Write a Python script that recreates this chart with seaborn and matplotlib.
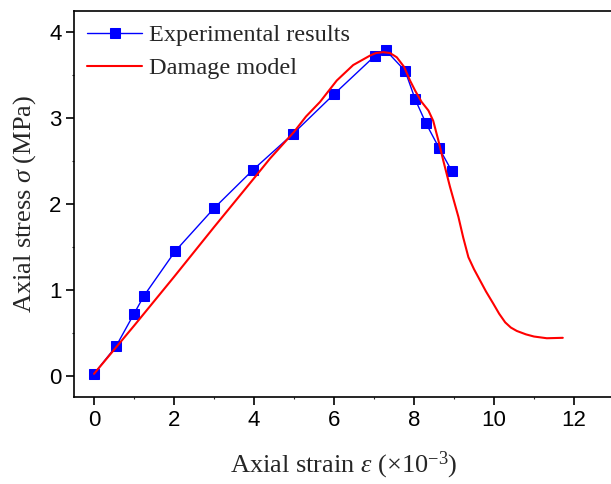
import numpy as np
import pandas as pd
import matplotlib
matplotlib.use("Agg")
import matplotlib.pyplot as plt
import seaborn as sns
from matplotlib.ticker import MultipleLocator

exp_strain = [0.0, 0.55, 1.0, 1.25, 2.03, 3.0, 3.98, 4.98, 6.0, 7.03, 7.3, 7.78, 8.03, 8.3, 8.63, 8.95]
exp_stress = [0.02, 0.34, 0.72, 0.93, 1.45, 1.95, 2.40, 2.82, 3.28, 3.73, 3.79, 3.55, 3.22, 2.94, 2.65, 2.38]

model_strain = [0.0, 1.0, 2.0, 3.0, 4.0, 4.4, 5.0, 5.3, 5.65, 6.07, 6.48, 6.9, 7.05, 7.23, 7.4,
                7.57, 7.75, 7.9, 8.03, 8.19, 8.36, 8.48, 8.61, 8.73, 8.9, 9.11, 9.23, 9.36,
                9.5, 9.65, 9.8, 9.98, 10.13, 10.28, 10.42, 10.57, 10.8, 11.0, 11.32, 11.72]
model_stress = [0.02, 0.58, 1.15, 1.73, 2.30, 2.53, 2.84, 3.02, 3.19, 3.44, 3.62, 3.73, 3.76, 3.77, 3.76,
                3.71, 3.60, 3.44, 3.32, 3.19, 3.09, 2.97, 2.74, 2.51, 2.20, 1.85, 1.61, 1.38,
                1.24, 1.11, 0.98, 0.84, 0.72, 0.62, 0.56, 0.52, 0.48, 0.455, 0.435, 0.44]

sns.set_style("ticks")
plt.rcParams['font.family'] = ['Liberation Sans', 'DejaVu Sans']
plt.rcParams['mathtext.fontset'] = 'custom'
plt.rcParams['mathtext.it'] = 'Liberation Serif:italic'
plt.rcParams['mathtext.rm'] = 'Liberation Serif'

fig = plt.figure(figsize=(6.11, 4.84), dpi=100)
ax = fig.add_axes([74/611, 87/484, 540/611, 386/484])

df_exp = pd.DataFrame({"strain": exp_strain, "stress": exp_stress})
df_mod = pd.DataFrame({"strain": model_strain, "stress": model_stress})

sns.lineplot(data=df_exp, x="strain", y="stress", ax=ax, color="#0000FF", lw=1.0,
             marker="s", markersize=7.5, markeredgecolor="#0000FF", sort=False,
             label="Experimental results")
sns.lineplot(data=df_mod, x="strain", y="stress", ax=ax, color="#FF0000", lw=1.5,
             sort=False, label="Damage model")

ax.set_xlim(-0.5, 13)
ax.set_ylim(-0.25, 4.25)
ax.xaxis.set_major_locator(MultipleLocator(2))
ax.xaxis.set_minor_locator(MultipleLocator(1))
ax.yaxis.set_major_locator(MultipleLocator(1))
ax.yaxis.set_minor_locator(MultipleLocator(0.5))
ax.tick_params(which='major', direction='out', length=5.5, width=1.2, labelsize=16, colors='black')
ax.tick_params(which='minor', direction='out', length=1.5, width=0.8)
for s in ax.spines.values():
    s.set_linewidth(1.2)
    s.set_color('black')

lab_font = {'family': 'Liberation Serif', 'size': 19}
ax.set_xlabel(r"Axial strain $\varepsilon$ ($\times$10$^{-3}$)", fontdict=lab_font, labelpad=14)
ax.set_ylabel(r"Axial stress $\sigma$ (MPa)", fontdict=lab_font, labelpad=8)

leg = ax.legend(loc='upper left', frameon=False, prop={'family': 'Liberation Serif', 'size': 17.5},
                handlelength=2.25, handletextpad=0.3, borderaxespad=0.25, borderpad=0.3,
                labelspacing=0.45, bbox_to_anchor=(0.0, 1.0))

fig.savefig("out.png", dpi=100)
